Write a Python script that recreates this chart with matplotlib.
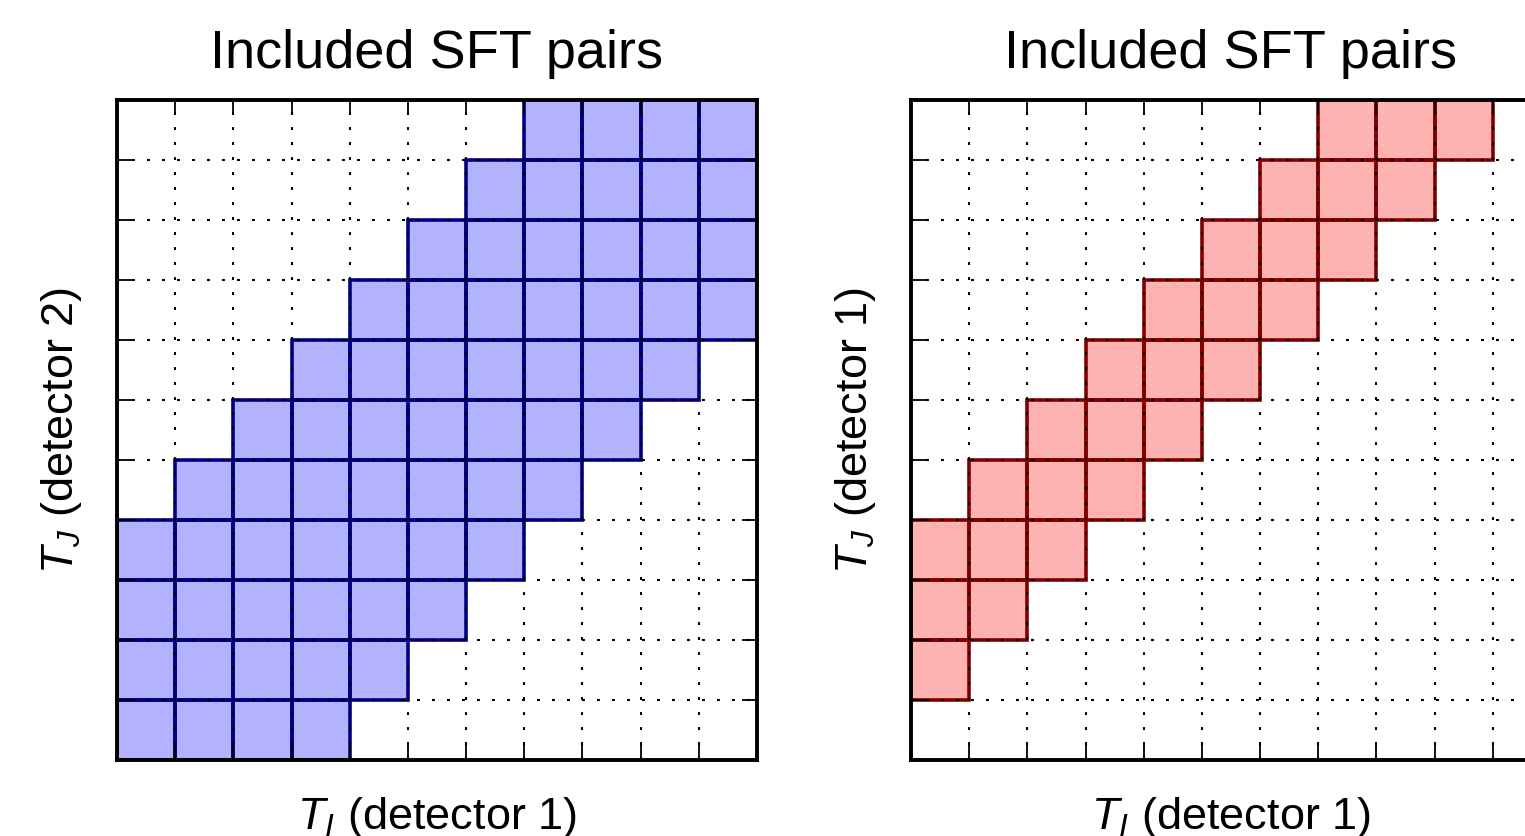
import matplotlib
matplotlib.use("Agg")
import matplotlib.pyplot as plt

# ---- data (rows listed from top, row index j = 10 at top down to 0) ----
n_sft = 11
grid_ticks = list(range(n_sft + 1))

# detector 1 x detector 2 : included SFT pairs (1 = included)
included_left = [
    [0, 0, 0, 0, 0, 0, 0, 1, 1, 1, 1],
    [0, 0, 0, 0, 0, 0, 1, 1, 1, 1, 1],
    [0, 0, 0, 0, 0, 1, 1, 1, 1, 1, 1],
    [0, 0, 0, 0, 1, 1, 1, 1, 1, 1, 1],
    [0, 0, 0, 1, 1, 1, 1, 1, 1, 1, 0],
    [0, 0, 1, 1, 1, 1, 1, 1, 1, 0, 0],
    [0, 1, 1, 1, 1, 1, 1, 1, 0, 0, 0],
    [1, 1, 1, 1, 1, 1, 1, 0, 0, 0, 0],
    [1, 1, 1, 1, 1, 1, 0, 0, 0, 0, 0],
    [1, 1, 1, 1, 1, 0, 0, 0, 0, 0, 0],
    [1, 1, 1, 1, 0, 0, 0, 0, 0, 0, 0],
]
# detector 1 x detector 1 : included SFT pairs
included_right = [
    [0, 0, 0, 0, 0, 0, 0, 1, 1, 1, 0],
    [0, 0, 0, 0, 0, 0, 1, 1, 1, 0, 0],
    [0, 0, 0, 0, 0, 1, 1, 1, 0, 0, 0],
    [0, 0, 0, 0, 1, 1, 1, 0, 0, 0, 0],
    [0, 0, 0, 1, 1, 1, 0, 0, 0, 0, 0],
    [0, 0, 1, 1, 1, 0, 0, 0, 0, 0, 0],
    [0, 1, 1, 1, 0, 0, 0, 0, 0, 0, 0],
    [1, 1, 1, 0, 0, 0, 0, 0, 0, 0, 0],
    [1, 1, 0, 0, 0, 0, 0, 0, 0, 0, 0],
    [1, 0, 0, 0, 0, 0, 0, 0, 0, 0, 0],
    [0, 0, 0, 0, 0, 0, 0, 0, 0, 0, 0],
]

titles = ["Included SFT pairs", "Included SFT pairs"]
xlabels = [r"$T_I$ (detector 1)", r"$T_I$ (detector 1)"]
ylabels = [r"$T_J$ (detector 2)", r"$T_J$ (detector 1)"]

plt.rcParams["font.family"] = ["Liberation Sans", "DejaVu Sans"]
plt.rcParams["mathtext.fontset"] = "custom"
plt.rcParams["mathtext.it"] = "Liberation Sans:italic"
plt.rcParams["mathtext.rm"] = "Liberation Sans"

DPI = 100
fig = plt.figure(figsize=(15.25, 8.36), dpi=DPI)

ax_w = 640 / 1525
ax_h = 660 / 836
positions = [
    [117 / 1525, 76 / 836, ax_w, ax_h],
    [911 / 1525, 76 / 836, ax_w, ax_h],
]
face_colors = [(0, 0, 1, 0.3), (1, 0, 0, 0.3)]
edge_colors = ["#000080", "#800000"]
masks = [included_left, included_right]

for k in range(2):
    ax = fig.add_axes(positions[k])
    mask = masks[k]
    xs, ys = [], []
    for r, row in enumerate(mask):
        j = n_sft - 1 - r
        for i, v in enumerate(row):
            if v:
                xs.append(i)
                ys.append(j)
    ax.bar(xs, [1] * len(xs), width=1, bottom=ys, align="edge",
           facecolor=face_colors[k], edgecolor=edge_colors[k],
           linewidth=2.6, zorder=1)
    ax.set_xlim(0, n_sft)
    ax.set_ylim(0, n_sft)
    ax.set_xticks(grid_ticks)
    ax.set_yticks(grid_ticks)
    ax.set_xticklabels([])
    ax.set_yticklabels([])
    ax.tick_params(direction="in", length=10.5, width=1.3, top=True, right=True,
                   colors="black")
    ax.grid(True, color="black", linestyle=(0, (1.4, 5.8)), linewidth=1.5,
            zorder=3)
    ax.set_axisbelow(False)
    for sp in ax.spines.values():
        sp.set_linewidth(2.8)
        sp.set_zorder(4)
    ax.set_title(titles[k], fontsize=39, pad=23)
    ax.set_xlabel(xlabels[k], fontsize=32.5, labelpad=22)
    ax.set_ylabel(ylabels[k], fontsize=32.5, labelpad=20)

fig.savefig("out.png", dpi=DPI)
